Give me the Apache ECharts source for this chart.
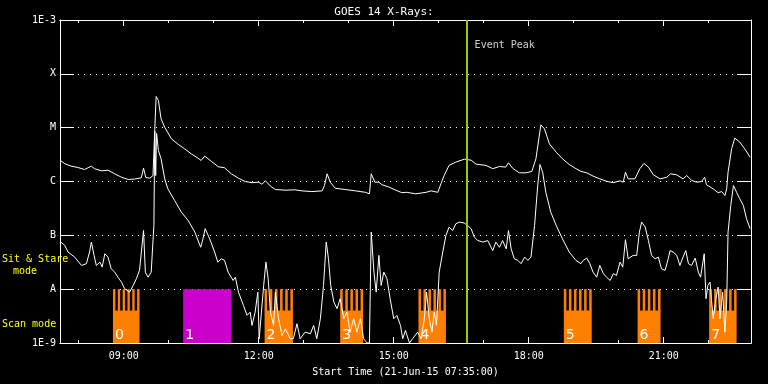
<!DOCTYPE html>
<html><head><meta charset="utf-8">
<script src="https://cdn.jsdelivr.net/npm/echarts@6/dist/echarts.min.js"></script>
<style>html,body{margin:0;padding:0;background:#000}#c{width:768px;height:384px}</style>
</head><body><div id="c"></div>
<script>
// ---- data ----
const startHour = 7 + 35 / 60;       // 07:35
const endHour = 22.94;
const majorTickHours = [9, 12, 15, 18, 21];
const minorTickHours = [8, 10, 11, 13, 14, 16, 17, 19, 20, 22];
const yLevelLabels = { '-9': '1E-9', '-8': 'A', '-7': 'B', '-6': 'C', '-5': 'M', '-4': 'X', '-3': '1E-3' };
const eventPeakHour = 16.62;

const longTime = [
 7.60,7.69,7.83,7.98,8.13,8.28,8.35,8.50,8.65,8.80,
 8.95,9.10,9.24,9.39,9.44,9.49,9.58,9.65,9.69,9.72,
 9.77,9.83,9.91,10.06,10.21,10.35,10.50,10.65,10.72,10.80,
 10.95,11.10,11.24,11.39,11.55,11.70,11.85,12.00,12.07,12.15,
 12.26,12.37,12.59,12.81,12.96,13.18,13.41,13.46,13.52,13.59,
 13.70,13.92,14.15,14.37,14.46,14.50,14.58,14.67,14.74,14.89,
 15.03,15.18,15.29,15.49,15.72,15.83,15.98,16.05,16.12,16.23,
 16.38,16.57,16.72,16.83,17.05,17.20,17.35,17.49,17.55,17.64,
 17.79,17.94,18.07,18.16,18.27,18.35,18.46,18.61,18.75,18.90,
 19.05,19.16,19.29,19.43,19.58,19.73,19.88,20.03,20.10,20.15,
 20.21,20.36,20.47,20.56,20.66,20.77,20.92,21.07,21.15,21.29,
 21.43,21.51,21.62,21.73,21.84,21.91,21.95,22.10,22.21,22.29,
 22.36,22.40,22.43,22.51,22.58,22.69,22.80,22.92
];
const longFlux = [
 2.43e-6,2.14e-6,1.93e-6,1.82e-6,1.67e-6,1.93e-6,1.73e-6,1.58e-6,1.62e-6,1.39e-6,
 1.20e-6,1.09e-6,1.11e-6,1.17e-6,1.77e-6,1.19e-6,1.15e-6,1.29e-6,9.5e-6,3.79e-5,
 3.2e-5,1.46e-5,1.02e-5,6.2e-6,4.9e-6,4.06e-6,3.27e-6,2.71e-6,2.46e-6,2.96e-6,
 2.36e-6,1.88e-6,1.80e-6,1.39e-6,1.15e-6,1.0e-6,9.5e-7,9.7e-7,8.9e-7,1.03e-6,
 8.2e-7,7.1e-7,6.9e-7,7.0e-7,6.7e-7,6.5e-7,6.7e-7,8.4e-7,1.39e-6,9.7e-7,
 7.5e-7,7.1e-7,6.7e-7,6.3e-7,5.9e-7,1.39e-6,9.7e-7,9.7e-7,8.7e-7,7.9e-7,
 7.0e-7,6.2e-7,6.3e-7,5.9e-7,6.3e-7,6.7e-7,6.3e-7,9.1e-7,1.29e-6,1.99e-6,
 2.29e-6,2.6e-6,2.49e-6,2.1e-6,1.99e-6,1.73e-6,1.9e-6,1.85e-6,2.23e-6,1.77e-6,
 1.45e-6,1.45e-6,1.54e-6,2.64e-6,1.13e-5,9.5e-6,5.0e-6,3.51e-6,2.64e-6,2.07e-6,
 1.73e-6,1.54e-6,1.45e-6,1.26e-6,1.12e-6,1.01e-6,9.5e-7,1.03e-6,9.7e-7,1.49e-6,
 1.12e-6,1.12e-6,1.73e-6,2.16e-6,1.85e-6,1.33e-6,1.12e-6,1.20e-6,1.39e-6,1.33e-6,
 1.12e-6,1.29e-6,1.05e-6,9.7e-7,1.0e-6,1.20e-6,8.7e-7,7.3e-7,6.2e-7,6.5e-7,
 5.5e-7,7.3e-7,1.49e-6,4.06e-6,6.4e-6,5.4e-6,4.06e-6,2.83e-6
];

const shortTime = [
 7.60,7.69,7.76,7.91,8.06,8.17,8.24,8.28,8.34,8.39,
 8.47,8.52,8.58,8.65,8.72,8.80,8.87,8.95,9.02,9.13,
 9.21,9.28,9.35,9.39,9.44,9.48,9.54,9.61,9.67,9.69,
 9.71,9.73,9.77,9.83,9.91,9.98,10.13,10.28,10.43,10.58,
 10.71,10.76,10.81,10.91,11.02,11.09,11.17,11.24,11.32,11.43,
 11.48,11.55,11.66,11.74,11.81,11.85,11.92,11.98,12.01,12.11,
 12.16,12.21,12.26,12.33,12.37,12.44,12.52,12.59,12.70,12.77,
 12.85,12.92,13.03,13.15,13.22,13.29,13.37,13.44,13.50,13.55,
 13.60,13.67,13.74,13.81,13.89,13.96,14.03,14.11,14.18,14.26,
 14.33,14.41,14.46,14.50,14.56,14.61,14.67,14.72,14.78,14.85,
 14.92,15.00,15.07,15.15,15.20,15.26,15.35,15.42,15.53,15.61,
 15.68,15.73,15.79,15.85,15.90,15.95,16.01,16.09,16.16,16.23,
 16.31,16.38,16.46,16.57,16.64,16.72,16.79,16.87,16.98,17.09,
 17.20,17.27,17.35,17.42,17.50,17.55,17.61,17.68,17.76,17.83,
 17.91,17.98,18.05,18.13,18.20,18.25,18.31,18.38,18.49,18.61,
 18.75,18.90,19.05,19.16,19.21,19.29,19.36,19.43,19.51,19.58,
 19.66,19.73,19.81,19.88,19.95,20.03,20.09,20.15,20.21,20.32,
 20.40,20.46,20.51,20.59,20.66,20.73,20.81,20.88,20.95,21.03,
 21.10,21.14,21.21,21.29,21.36,21.43,21.49,21.55,21.62,21.70,
 21.77,21.82,21.90,21.94,21.98,22.03,22.06,22.10,22.16,22.21,
 22.25,22.31,22.36,22.40,22.43,22.49,22.55,22.62,22.69,22.77,22.84,22.92
];
const shortFlux = [
 7.5e-8,6.5e-8,4.9e-8,3.94e-8,2.76e-8,2.97e-8,4.9e-8,7.5e-8,4.24e-8,2.76e-8,
 3.18e-8,2.57e-8,4.55e-8,3.94e-8,2.4e-8,2.07e-8,1.67e-8,1.35e-8,1.02e-8,8.8e-9,
 1.17e-8,1.56e-8,2.23e-8,2.07e-8,1.23e-7,2.07e-8,1.67e-8,2.07e-8,1.53e-7,8.5e-6,
 1.29e-6,7.8e-6,3.77e-6,2.64e-6,1.12e-6,7.3e-7,4.45e-7,2.7e-7,1.89e-7,1.15e-7,
 6.0e-8,8.6e-8,1.33e-7,8.6e-8,4.9e-8,3.18e-8,3.67e-8,3.42e-8,2.07e-8,1.45e-8,
 1.67e-8,8.8e-9,5.0e-9,3.26e-9,3.75e-9,2.12e-9,3.75e-9,8.8e-9,1.2e-9,1.17e-8,
 3.18e-8,1.56e-8,3.75e-9,2.12e-9,8.8e-9,2.83e-9,1.38e-9,1.84e-9,1.2e-9,1.2e-9,
 2.28e-9,1.2e-9,1.59e-9,1.49e-9,2.12e-9,1.2e-9,2.83e-9,1.17e-8,7.5e-8,3.67e-8,
 1.17e-8,5.75e-9,4.34e-9,6.65e-9,2.83e-9,3.75e-9,1.59e-9,2.83e-9,1.59e-9,2.83e-9,
 1.2e-9,1.0e-9,1.0e-9,1.15e-7,2.07e-8,8.8e-9,4.24e-8,1.17e-8,2.07e-8,1.56e-8,
 6.65e-9,2.83e-9,3.26e-9,2.12e-9,1.2e-9,1.71e-9,1.0e-9,1.2e-9,1.59e-9,1.2e-9,
 2.83e-9,8.8e-9,2.83e-9,1.59e-9,3.75e-9,2.12e-9,2.07e-8,4.9e-8,9.95e-8,1.42e-7,
 1.23e-7,1.64e-7,1.76e-7,1.69e-7,1.53e-7,1.33e-7,9.3e-8,8.0e-8,7.5e-8,8.0e-8,
 5.2e-8,7.5e-8,6.0e-8,8.0e-8,5.6e-8,1.23e-7,5.6e-8,3.67e-8,3.42e-8,2.97e-8,
 3.94e-8,3.42e-8,3.94e-8,1.53e-7,8.4e-7,2.07e-6,1.49e-6,6.3e-7,2.7e-7,1.53e-7,
 8.6e-8,4.9e-8,3.42e-8,2.97e-8,3.42e-8,3.77e-8,2.97e-8,2.07e-8,1.67e-8,2.76e-8,
 1.94e-8,1.67e-8,1.45e-8,1.94e-8,1.8e-8,3.18e-8,2.57e-8,8.3e-8,3.67e-8,4.24e-8,
 4.24e-8,1.15e-7,1.76e-7,1.42e-7,8.0e-8,4.24e-8,3.67e-8,3.94e-8,2.4e-8,2.23e-8,
 3.67e-8,5.2e-8,4.9e-8,4.24e-8,2.76e-8,3.94e-8,5.2e-8,2.97e-8,2.76e-8,3.77e-8,
 2.07e-8,1.67e-8,4.55e-8,6.65e-9,1.17e-8,1.35e-8,6.65e-9,2.83e-9,6.65e-9,1.09e-8,
 2.83e-9,8.8e-9,1.59e-9,5.75e-9,1.15e-7,3.59e-7,8.4e-7,6.3e-7,4.79e-7,3.59e-7,2.03e-7,1.33e-7
];

// observing blocks (hours)
const blockStart = [8.76, 10.32, 12.13, 13.81, 15.55, 18.78, 20.42, 22.01];
const blockEnd   = [9.35, 11.39, 12.76, 14.32, 16.16, 19.40, 20.93, 22.62];
const blockLabel = ['0', '1', '2', '3', '4', '5', '6', '7'];
const blockMode  = ['scan', 'stare', 'scan', 'scan', 'scan', 'scan', 'scan', 'scan'];

// ---- styles ----
const MONO = '"DejaVu Sans Mono", monospace';
const ORANGE = '#ff8000', MAGENTA = '#cc00cc', PEAK = '#99cc00';
const combBase = 4e-9;   // flux level where the scan comb teeth begin
const eventLabelFlux = 3.4e-4;

const chart = echarts.init(document.getElementById('c'), null, { renderer: 'canvas' });

function hhmm(v) { const h = Math.floor(v + 1e-6); const m = Math.round((v - h) * 60); return String(h).padStart(2, '0') + ':' + String(m).padStart(2, '0'); }
const zip = (a, b) => a.map((t, i) => [t, b[i]]);

const baseX = {
  type: 'value', min: startHour, max: endHour, gridIndex: 0,
  axisLine: { show: true, lineStyle: { color: '#fff', width: 1 } },
  splitLine: { show: false }, axisLabel: { show: false }
};
const xAxes = [
  Object.assign({}, baseX, {
    position: 'bottom',
    axisTick: { show: true, inside: true, length: 6, customValues: majorTickHours, lineStyle: { color: '#fff' } },
    axisLabel: { show: true, customValues: majorTickHours, formatter: v => hhmm(v), color: '#fff', fontFamily: MONO, fontSize: 10, margin: 8 },
    name: 'Start Time (21-Jun-15 07:35:00)', nameLocation: 'middle', nameGap: 24,
    nameTextStyle: { color: '#fff', fontFamily: MONO, fontSize: 10 }
  }),
  Object.assign({}, baseX, { position: 'bottom',
    axisTick: { show: true, inside: true, length: 3, customValues: minorTickHours, lineStyle: { color: '#fff' } } }),
  Object.assign({}, baseX, { position: 'top',
    axisTick: { show: true, inside: true, length: 6, customValues: majorTickHours, lineStyle: { color: '#fff' } } }),
  Object.assign({}, baseX, { position: 'top',
    axisTick: { show: true, inside: true, length: 3, customValues: minorTickHours, lineStyle: { color: '#fff' } } })
];

const baseY = {
  type: 'log', logBase: 10, min: 1e-9, max: 1e-3, interval: 1,
  axisLine: { show: true, lineStyle: { color: '#fff', width: 1 } },
  axisTick: { show: true, inside: true, length: 14, lineStyle: { color: '#fff' } },
  splitLine: { show: false }, minorTick: { show: false }
};
const yAxes = [
  Object.assign({}, baseY, {
    position: 'left',
    axisLabel: { show: true, color: '#fff', fontFamily: MONO, fontSize: 10, margin: 4,
      formatter: v => yLevelLabels[String(Math.round(Math.log10(v)))] || '' },
    splitLine: { show: true, lineStyle: { color: '#fff', width: 1, type: [1, 5] } }
  }),
  Object.assign({}, baseY, { position: 'right', axisLabel: { show: false } })
];

const option = {
  backgroundColor: '#000',
  animation: false,
  title: { text: 'GOES 14 X-Rays:', left: 'center', top: 2,
    textStyle: { color: '#fff', fontFamily: MONO, fontSize: 11, fontWeight: 'normal' } },
  grid: { left: 60, right: 17, top: 20, bottom: 41, containLabel: false },
  xAxis: xAxes,
  yAxis: yAxes,
  graphic: [
    { type: 'text', left: 2, top: 254, style: { text: 'Sit & Stare', fill: '#ffff00', font: '10px ' + MONO } },
    { type: 'text', left: 13, top: 266, style: { text: 'mode', fill: '#ffff00', font: '10px ' + MONO } },
    { type: 'text', left: 2, top: 319, style: { text: 'Scan mode', fill: '#ffff00', font: '10px ' + MONO } }
  ],
  series: [
    {
      type: 'custom', name: 'blocks', z: 1, xAxisIndex: 0, yAxisIndex: 0,
      data: blockStart.map((s, i) => [s, blockEnd[i], i]),
      renderItem: function (params, api) {
        const i = api.value(2);
        const pBot = api.coord([api.value(0), 1e-9]);
        const pTop = api.coord([api.value(1), 1e-8]);
        const pMid = api.coord([api.value(0), combBase]);
        const x0 = pBot[0], x1 = pTop[0], w = x1 - x0;
        const children = [];
        if (blockMode[i] === 'stare') {
          children.push({ type: 'rect', shape: { x: x0, y: pTop[1], width: w, height: pBot[1] - pTop[1] }, style: { fill: MAGENTA } });
        } else {
          children.push({ type: 'rect', shape: { x: x0, y: pMid[1], width: w, height: pBot[1] - pMid[1] }, style: { fill: ORANGE } });
          const n = Math.max(1, Math.round((w + 2.5) / 5));
          const tw = w / (2 * n - 1);
          for (let k = 0; k < n; k++) {
            children.push({ type: 'rect', shape: { x: x0 + 2 * k * tw, y: pTop[1], width: tw, height: pMid[1] - pTop[1] + 0.5 }, style: { fill: ORANGE } });
          }
        }
        children.push({ type: 'text', x: x0 + 2, y: pBot[1] - 1,
          style: { text: blockLabel[i], fill: '#fff', font: '14px "DejaVu Sans", sans-serif', textAlign: 'left', textVerticalAlign: 'bottom' } });
        return { type: 'group', children: children };
      }
    },
    {
      type: 'line', name: 'long', z: 3, data: zip(longTime, longFlux), showSymbol: false, symbol: 'none',
      lineStyle: { color: '#fff', width: 1 }, clip: true,
      markLine: { silent: true, symbol: ['none', 'none'], label: { show: false },
        lineStyle: { color: PEAK, width: 2, type: 'solid' }, data: [{ xAxis: eventPeakHour }] }
    },
    {
      type: 'line', name: 'short', z: 3, data: zip(shortTime, shortFlux), showSymbol: false, symbol: 'none',
      lineStyle: { color: '#fff', width: 1 }, clip: true
    },
    {
      type: 'scatter', name: 'peakLabel', z: 4, symbolSize: 0, data: [[eventPeakHour, eventLabelFlux]],
      label: { show: true, position: 'right', distance: 8, formatter: 'Event Peak', color: '#fff', fontFamily: MONO, fontSize: 10 }
    }
  ]
};
chart.setOption(option);
</script></body></html>
